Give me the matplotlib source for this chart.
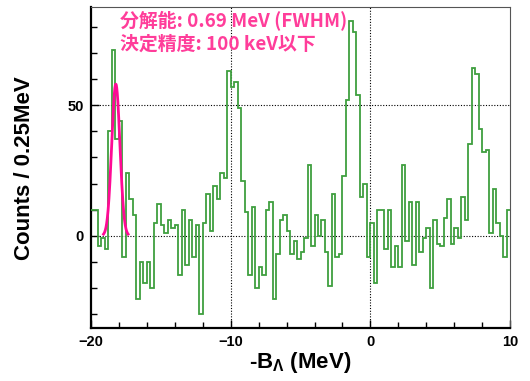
import numpy as np
import matplotlib
matplotlib.use("Agg")
import matplotlib.pyplot as plt
from matplotlib.ticker import MultipleLocator, FixedLocator

plt.rcParams["font.family"] = ["Liberation Sans", "DejaVu Sans"]
plt.rcParams["font.weight"] = "bold"
plt.rcParams["mathtext.fontset"] = "custom"
plt.rcParams["mathtext.rm"] = "Liberation Sans:bold"
plt.rcParams["mathtext.it"] = "Liberation Sans:bold"
plt.rcParams["mathtext.default"] = "rm"

# histogram binning (MeV) and counts per 0.25 MeV bin
x_lo, x_hi, bin_width = -20.0, 10.0, 0.25
counts = [
    10, 10, -4, -1, -5, 40, 71, 37, 44, -8,
    24, 14, 8, -24, -10, -18, -10, -20, 5, 12,
    4, 1, 6, 3, 4, -15, 10, -11, 6, -8,
    4, -30, 5, 16, 2, 19, 14, 24, 22, 63,
    57, 59, 49, 21, 9, -15, 11, -20, -12, -15,
    10, 13, -24, -7, 6, 8, 2, -7, -2, -9,
    -6, -1, 27, -4, 8, 0, 6, -6, -19, 16,
    -8, -7, 23, 52, 82, 78, 54, 15, 20, -8,
    5, -18, 10, 10, -5, 10, -12, -4, -12, 27,
    -2, 13, -11, 13, -6, -1, 3, -20, 6, -3,
    -4, 7, 14, -3, 3, -1, 15, 6, 35, 64,
    62, 41, 32, 33, 1, 18, 5, 0, -8, 10,
]

# resolution gaussian (fit parameters)
g_amp = 58.0
g_mean = -18.2
g_fwhm = 0.69

annot_lines = ["分解能: 0.69 MeV (FWHM)", "決定精度: 100 keV以下"]
x_major = [-20, -10, 0, 10]
y_major = [0, 50]
grid_x = [-10, 0]
grid_y = [0, 50]

n_bins = int(round((x_hi - x_lo) / bin_width))
edges = np.linspace(x_lo, x_hi, n_bins + 1)

fig = plt.figure(figsize=(5.3, 3.81), dpi=100)
ax = fig.add_axes([0.171, 0.138, 0.792, 0.843])

# dotted grid
for gx in grid_x:
    ax.axvline(gx, color="black", lw=0.8, ls=(0, (1, 1.5)), zorder=1)
for gy in grid_y:
    ax.axhline(gy, color="black", lw=0.8, ls=(0, (1, 1.5)), zorder=1)

ax.stairs(counts, edges, baseline=None, color="#3f9f3f", lw=1.3, zorder=3)

sigma = g_fwhm / (2 * np.sqrt(2 * np.log(2)))
gx = np.linspace(g_mean - 3 * sigma, g_mean + 3 * sigma, 200)
gy = g_amp * np.exp(-0.5 * ((gx - g_mean) / sigma) ** 2)
ax.plot(gx, gy, color="#ff0a95", lw=2.0, zorder=4)

ax.set_xlim(x_lo, x_hi)
ax.set_ylim(-35.4, 87.4)

ax.xaxis.set_major_locator(FixedLocator(x_major))
ax.xaxis.set_minor_locator(MultipleLocator(2))
ax.yaxis.set_major_locator(FixedLocator(y_major))
ax.yaxis.set_minor_locator(MultipleLocator(10))
ax.tick_params(axis="both", which="both", direction="in", top=False, right=False)
ax.tick_params(axis="both", which="major", length=6, width=1.0, labelsize=10.5, pad=5)
ax.tick_params(axis="both", which="minor", length=4, width=1.0)
for lab in ax.get_xticklabels() + ax.get_yticklabels():
    lab.set_fontweight("bold")

for s in ["left", "bottom"]:
    ax.spines[s].set_linewidth(1.6)
for s in ["top", "right"]:
    ax.spines[s].set_linewidth(0.8)
    ax.spines[s].set_color("#555555")

ax.set_xlabel("-B$_{Λ}$ (MeV)", fontsize=16, fontweight="bold", va="center")
ax.xaxis.set_label_coords(0.5, -0.105)
ax.set_ylabel("Counts / 0.25MeV", fontsize=16, fontweight="bold", va="center")
ax.yaxis.set_label_coords(-0.157, 0.5)

for i, line in enumerate(annot_lines):
    ax.text(0.07, 0.957 - i * 0.071, line, transform=ax.transAxes,
            ha="left", va="center", fontsize=13.6, fontweight="bold",
            color="#ff3d9a", family=["Noto Sans CJK JP", "DejaVu Sans"], zorder=5)

fig.savefig("out.png", dpi=100)
